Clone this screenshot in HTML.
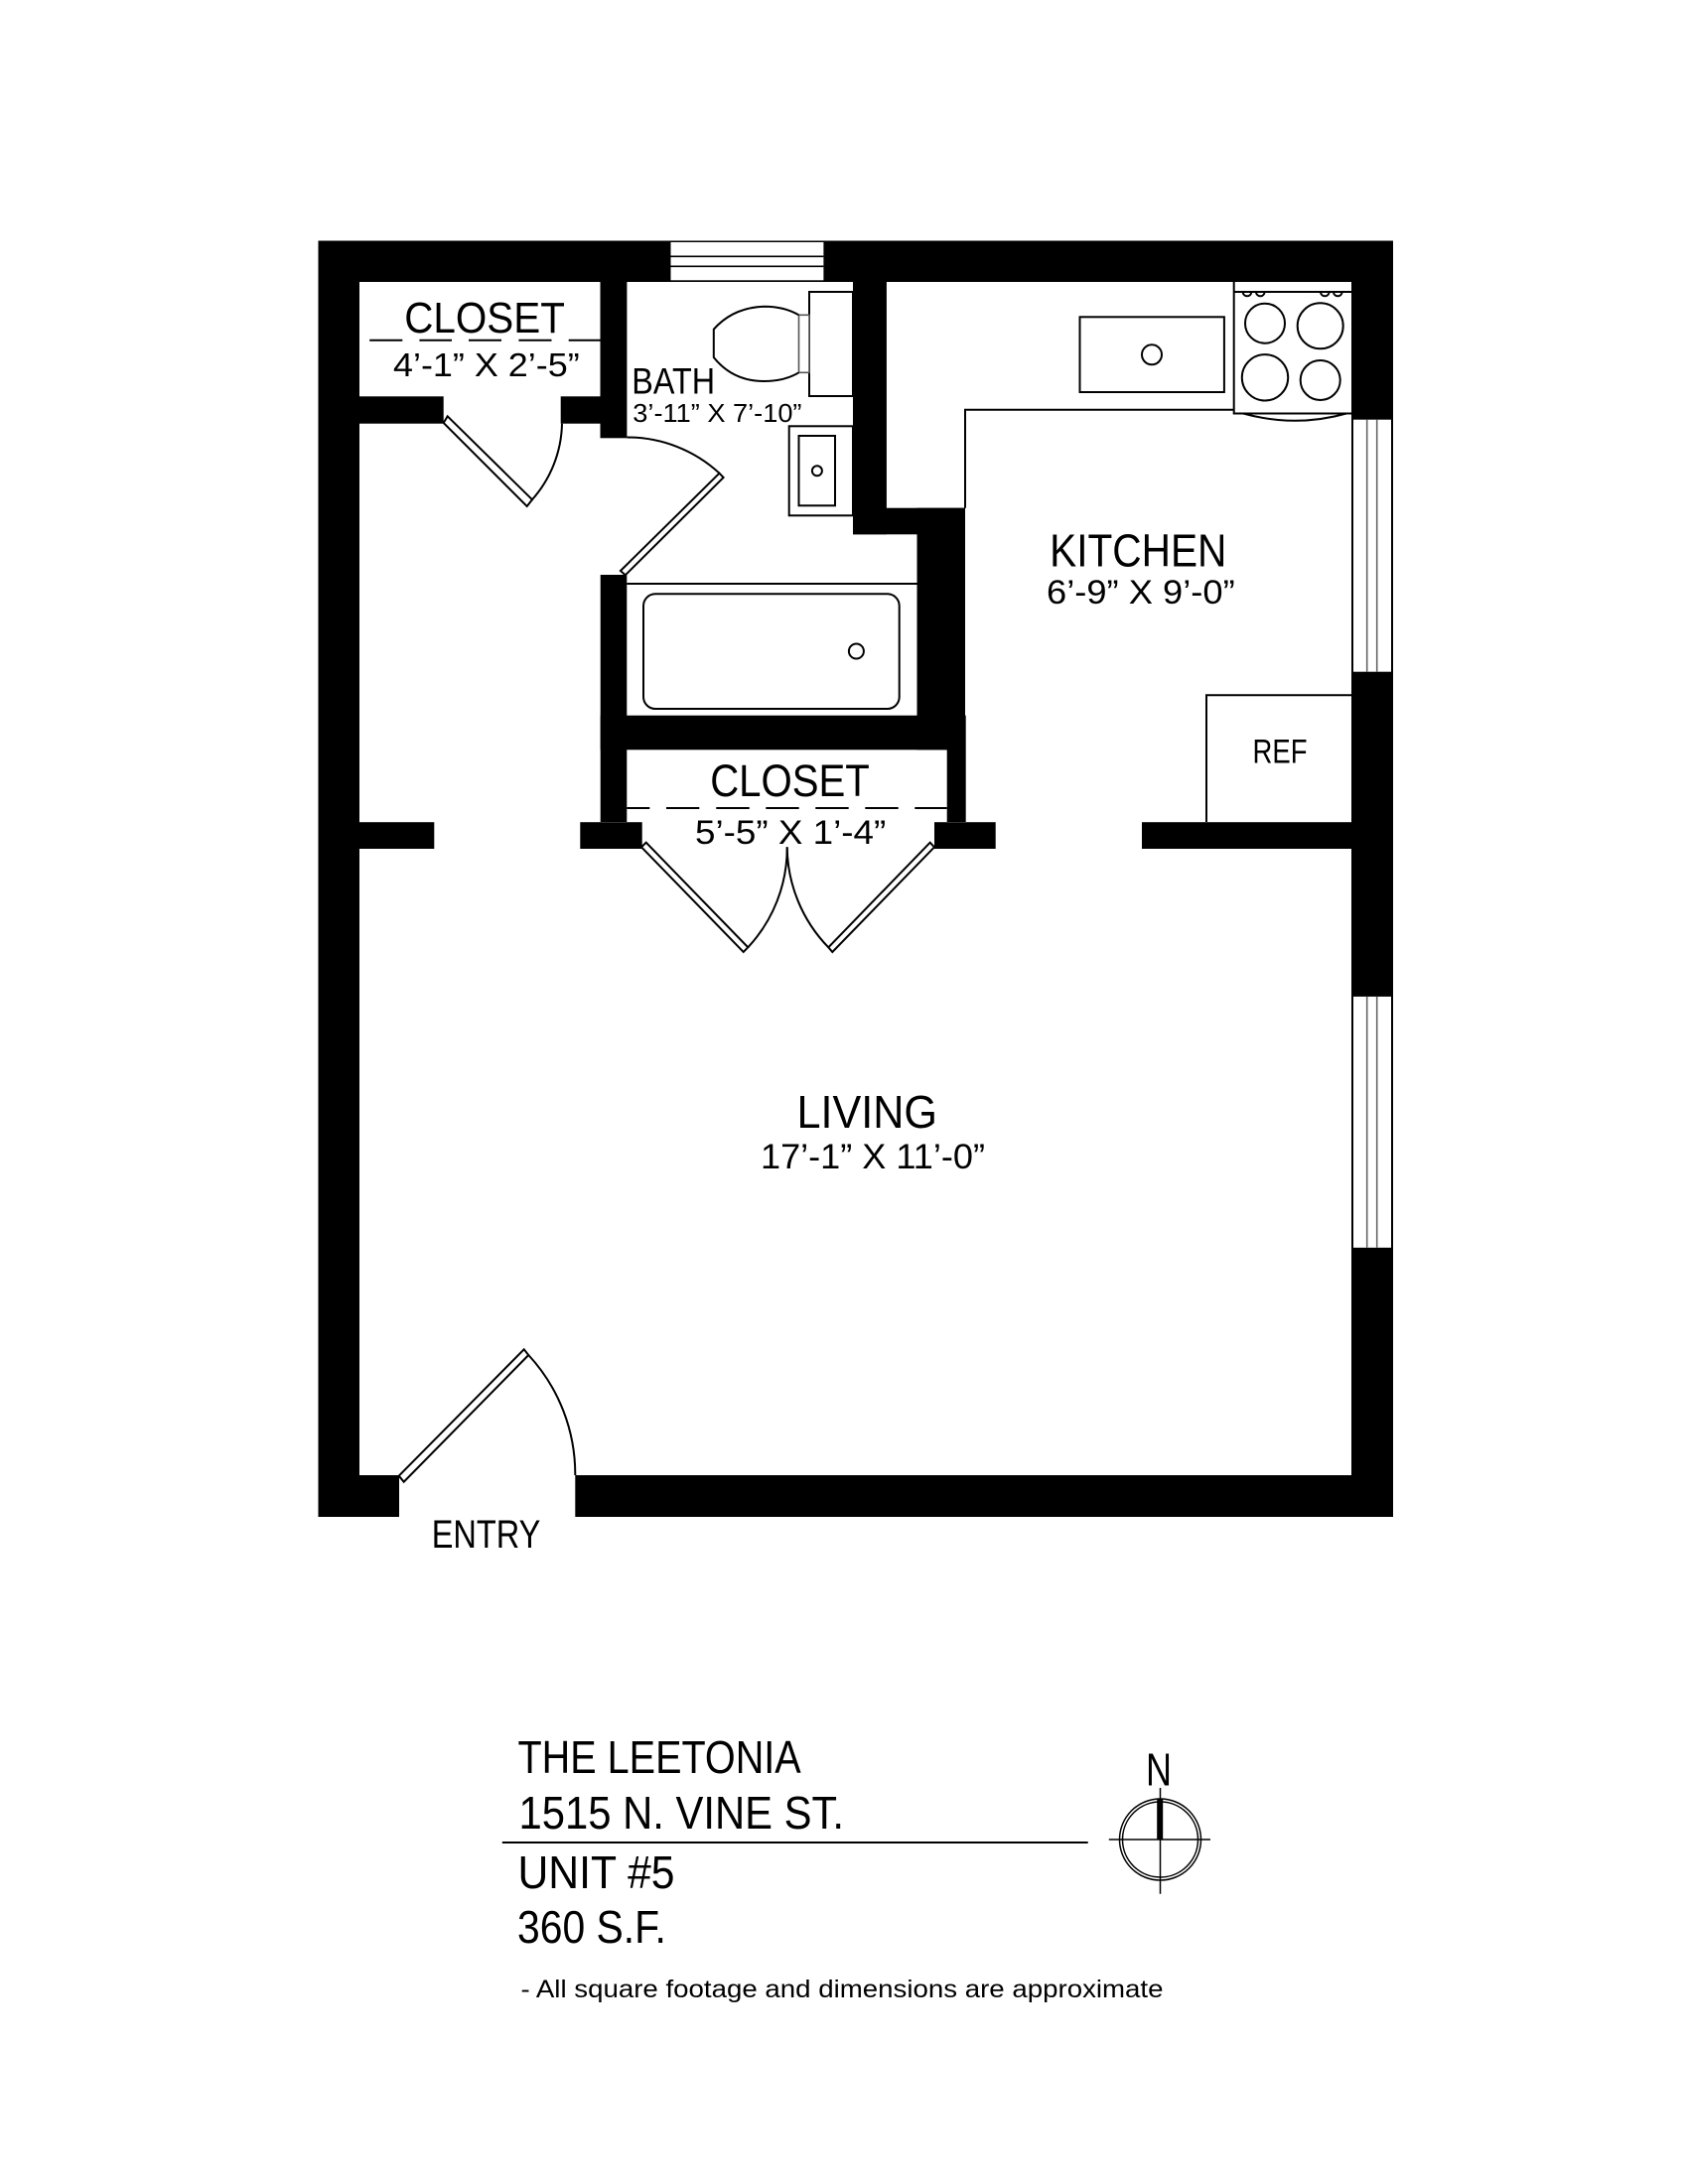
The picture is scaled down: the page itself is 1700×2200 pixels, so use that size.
<!DOCTYPE html>
<html lang="en"><head><meta charset="utf-8"><title>The Leetonia Unit 5 Floor Plan</title>
<style>
html,body{margin:0;padding:0;background:#fff}
svg{display:block}
text{font-family:"Liberation Sans",sans-serif;fill:#000}
.l{fill:none;stroke:#000;stroke-width:2}
.w{fill:#fff;stroke:#000;stroke-width:2}
</style></head><body>
<svg width="1700" height="2200" viewBox="0 0 1700 2200" xmlns="http://www.w3.org/2000/svg">
<rect width="1700" height="2200" fill="#fff"/>
<!-- walls -->
<rect x="320.5" y="242.5" width="1082.5" height="41.5" fill="#000"/>
<rect x="320.5" y="242.5" width="41.5" height="1285.5" fill="#000"/>
<rect x="1361" y="242.5" width="42" height="1285.5" fill="#000"/>
<rect x="320.5" y="1486" width="81.5" height="42" fill="#000"/>
<rect x="579.3" y="1486" width="823.7" height="42" fill="#000"/>
<!-- closet 1 walls -->
<rect x="362" y="399.3" width="84.7" height="27.4" fill="#000"/>
<rect x="564.7" y="399.3" width="39.8" height="27.4" fill="#000"/>
<rect x="604.5" y="284" width="26.9" height="157.3" fill="#000"/>
<!-- bath / kitchen wall -->
<rect x="859" y="284" width="33.9" height="254.3" fill="#000"/>
<rect x="859" y="511.7" width="113" height="26.6" fill="#000"/>
<rect x="923.5" y="511.7" width="48.5" height="243.6" fill="#000"/>
<rect x="604.7" y="579" width="26.6" height="249" fill="#000"/>
<rect x="604.7" y="720.7" width="368" height="34.6" fill="#000"/>
<rect x="953.7" y="755" width="19" height="73" fill="#000"/>
<!-- mid walls -->
<rect x="362" y="828.2" width="75.3" height="26.8" fill="#000"/>
<rect x="584.3" y="828.2" width="62.4" height="26.8" fill="#000"/>
<rect x="941" y="828.2" width="61.7" height="26.8" fill="#000"/>
<rect x="1150" y="828.2" width="212" height="26.8" fill="#000"/>
<!-- windows -->
<rect x="675.5" y="244" width="153.9" height="38.3" fill="#fff"/>
<path d="M675.5 258.3H829.4M675.5 268.3H829.4" stroke="#000" stroke-width="1.6" fill="none"/>
<rect x="1363" y="422.7" width="38" height="254" fill="#fff"/>
<rect x="1363" y="1003.9" width="38" height="252.9" fill="#fff"/>
<path d="M1376.7 422.7V676.7M1386.7 422.7V676.7M1376.7 1003.9V1256.8M1386.7 1003.9V1256.8" stroke="#666" stroke-width="1.6" fill="none"/>
<!-- dashed closet lines -->
<path d="M372.2 342.7H405.3M422.4 342.7H455M472 342.7H505M522.4 342.7H555.5M572.7 342.7H604.5" class="l"/>
<path d="M631.3 814H654.3M671 814H704.3M721.3 814H754.7M771.3 814H804.7M821.3 814H854.7M871.3 814H904.7M921.3 814H953.7" class="l"/>
<!-- doors -->
<path d="M450.7 419.3L536 503.3L530.7 510L446.7 426Z" class="w"/>
<path d="M566 426.7A119 119 0 0 1 535.3 504" class="l"/>
<path d="M631.4 440.5A137 137 0 0 1 724.5 476.7" class="l"/>
<path d="M724.5 476.7L728.6 481L629.8 579.3L624.9 575Z" class="w"/>
<path d="M646 853.3L748.7 959L753.3 954.3L650.7 848.7Z" class="w"/>
<path d="M792.7 853.3A147 147 0 0 1 753.3 954.3" class="l"/>
<path d="M941 853.3L838.3 959L834.3 954.3L936.7 848.7Z" class="w"/>
<path d="M834.3 954.3A147 147 0 0 1 792.7 853.3" class="l"/>
<path d="M401.7 1486.7L527.7 1359.3L532.3 1365L406.7 1492.7Z" class="w"/>
<path d="M532.3 1365A177 177 0 0 1 579.3 1486" class="l"/>
<!-- toilet -->
<rect x="815" y="294" width="44" height="105" class="l"/>
<rect x="804.5" y="317.3" width="10.5" height="58" fill="#fff" stroke="#555" stroke-width="1.6"/>
<path d="M804.5 317.3Q790 308.7 769.4 308.7Q738 310 718.8 331.7V360Q738 384 769.4 384Q790 384 804.5 375.3" class="l"/>
<!-- bath sink -->
<rect x="794.7" y="429.3" width="64.3" height="90" class="l"/>
<rect x="804.5" y="439" width="36.5" height="70.3" class="l"/>
<circle cx="822.9" cy="474.3" r="5" class="l"/>
<!-- tub -->
<path d="M631.3 588H923.5" class="l"/>
<rect x="648" y="598.3" width="257.7" height="115.7" rx="12" class="l"/>
<circle cx="862.4" cy="656" r="7.5" class="l"/>
<!-- kitchen counter -->
<path d="M972 511.7V412.7H1242.5" class="l"/>
<rect x="1087.5" y="319.3" width="145.4" height="75.7" class="l"/>
<circle cx="1160" cy="357.3" r="10" class="l"/>
<!-- stove -->
<path d="M1242.7 284V416.5H1361M1242.7 294H1361" class="l"/>
<path d="M1252 416.5Q1305 431 1356 416.5" class="l"/>
<circle cx="1274" cy="325.7" r="20" class="l"/>
<circle cx="1329.7" cy="328.3" r="23" class="l"/>
<circle cx="1274" cy="380.3" r="23.2" class="l"/>
<circle cx="1329.7" cy="383" r="20" class="l"/>
<path d="M1251.7 294a4.3 4.3 0 0 0 8.6 0M1265 294a4.3 4.3 0 0 0 8.6 0M1330 294a4.3 4.3 0 0 0 8.6 0M1343 294a4.3 4.3 0 0 0 8.6 0" class="l"/>
<!-- ref -->
<path d="M1215 828V700.3H1361" class="l"/>
<!-- room labels -->
<text x="407.2" y="335" font-size="44" textLength="161.7" lengthAdjust="spacingAndGlyphs">CLOSET</text>
<text x="396" y="379" font-size="33" textLength="187.7" lengthAdjust="spacingAndGlyphs">4’-1” X 2’-5”</text>
<text x="636.3" y="396.5" font-size="37" textLength="83.8" lengthAdjust="spacingAndGlyphs">BATH</text>
<text x="637.3" y="425" font-size="26" textLength="170.2" lengthAdjust="spacingAndGlyphs">3’-11” X 7’-10”</text>
<text x="1057.1" y="570.5" font-size="46" textLength="178.3" lengthAdjust="spacingAndGlyphs">KITCHEN</text>
<text x="1054" y="608" font-size="34" textLength="189.7" lengthAdjust="spacingAndGlyphs">6’-9” X 9’-0”</text>
<text x="715.2" y="802" font-size="45" textLength="160.6" lengthAdjust="spacingAndGlyphs">CLOSET</text>
<text x="700" y="850" font-size="34" textLength="192.3" lengthAdjust="spacingAndGlyphs">5’-5” X 1’-4”</text>
<text x="1261.5" y="768.7" font-size="34" textLength="55" lengthAdjust="spacingAndGlyphs">REF</text>
<text x="802.5" y="1136" font-size="46" textLength="141.5" lengthAdjust="spacingAndGlyphs">LIVING</text>
<text x="766" y="1177" font-size="35" textLength="226" lengthAdjust="spacingAndGlyphs">17’-1” X 11’-0”</text>
<text x="434.7" y="1559" font-size="40" textLength="109.6" lengthAdjust="spacingAndGlyphs">ENTRY</text>
<!-- title block -->
<text x="521.5" y="1786" font-size="46" textLength="285.2" lengthAdjust="spacingAndGlyphs">THE LEETONIA</text>
<text x="522.5" y="1842" font-size="46" textLength="327.5" lengthAdjust="spacingAndGlyphs">1515 N. VINE ST.</text>
<rect x="505.8" y="1855" width="589.9" height="2" fill="#000"/>
<text x="521.5" y="1902" font-size="46" textLength="158" lengthAdjust="spacingAndGlyphs">UNIT #5</text>
<text x="521" y="1957" font-size="46" textLength="149.9" lengthAdjust="spacingAndGlyphs">360 S.F.</text>
<text x="524.5" y="2012" font-size="25" textLength="647" lengthAdjust="spacingAndGlyphs">- All square footage and dimensions are approximate</text>
<!-- compass -->
<text x="1154" y="1798.7" font-size="46" textLength="26" lengthAdjust="spacingAndGlyphs">N</text>
<circle cx="1168.5" cy="1853" r="41" fill="none" stroke="#000" stroke-width="1.5"/>
<circle cx="1168.5" cy="1853" r="38" fill="none" stroke="#000" stroke-width="1.5"/>
<path d="M1116.8 1853H1219M1168.5 1801V1907.7" stroke="#000" stroke-width="1.5" fill="none"/>
<rect x="1165.2" y="1811.7" width="6" height="41.3" fill="#000"/>
</svg>
</body></html>
